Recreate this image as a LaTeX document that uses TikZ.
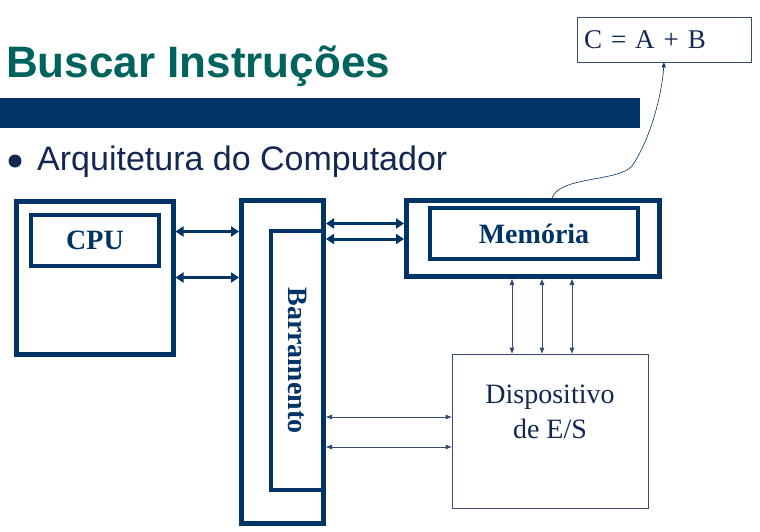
\documentclass[tikz,border=0pt]{standalone}
\usepackage{fontspec}
\setmainfont{Liberation Serif}
\setsansfont{Liberation Sans}
\usepackage{xcolor}
\usepackage{tikz}
\usetikzlibrary{arrows.meta, positioning, calc}

\definecolor{navy}{RGB}{0,51,102}
\definecolor{titleteal}{RGB}{0,99,94}
\definecolor{textnavy}{RGB}{18,40,82}
\definecolor{thinnavy}{RGB}{55,75,115}

\begin{document}
\begin{tikzpicture}[
    x=1pt, y=-1pt,
    outerbox/.style={draw=navy, line width=5pt, inner sep=0pt},
    innerbox/.style={draw=navy, line width=4pt, inner sep=0pt, text=navy, font=\fontsize{28}{30}\selectfont\bfseries},
    thinbox/.style={draw=thinnavy, line width=0.8pt, inner sep=0pt, text=textnavy, font=\fontsize{28}{35}\selectfont},
    fatlink/.style={navy, line width=3pt, {Triangle[length=8pt,width=10pt]}-{Triangle[length=8pt,width=10pt]}},
    thinlink/.style={thinnavy, line width=0.8pt, {Triangle[length=6pt,width=4.5pt]}-{Triangle[length=6pt,width=4.5pt]}}
]
\useasboundingbox (0,0) rectangle (760,531);

% heading
\node[anchor=base west, inner sep=0pt, text=titleteal, font=\fontsize{44}{46}\selectfont\sffamily\bfseries] (title) at (6,77) {Buscar Instruções};
\fill[navy] (0,98) rectangle (640,128);
\fill[textnavy] (15,161) circle (6.5);
\node[anchor=base west, inner sep=0pt, text=textnavy, font=\fontsize{34}{36}\selectfont\sffamily] (topic) at (37,170) {Arquitetura do Computador};

% blocks
\node[outerbox, minimum width=157pt, minimum height=153pt] (cpubox) at (94.5,277.5) {};
\node[innerbox, minimum width=128pt, minimum height=51pt] (cpu) at (95,240.5) {CPU};
\node[outerbox, minimum width=82pt, minimum height=323pt] (busbox) at (282.5,362) {};
\node[innerbox, minimum width=52.5pt, minimum height=259pt] (bus) at (297.25,360.5) {};
\node[rotate=-90, text=navy, font=\fontsize{28}{30}\selectfont\bfseries] (buslabel) at (bus.center) {Barramento};
\node[outerbox, minimum width=253pt, minimum height=76pt] (membox) at (533,238.5) {};
\node[innerbox, minimum width=208pt, minimum height=51pt] (mem) at (534,233.5) {Memória};
\node[thinbox, minimum width=196pt, minimum height=154pt, align=center] (es) at (550,431) {Dispositivo\\de E/S\\[4pt]};
\node[thinbox, minimum width=174pt, minimum height=45pt, text width=160pt, align=left, font=\fontsize{27}{29}\selectfont] (expr) at (664,39.5) {C = A + B};

% links
\draw[fatlink] ([yshift=46pt]cpubox.east) -- ([yshift=46pt]busbox.west |- cpubox.east);
\draw[fatlink] (cpubox.east) -- (busbox.west |- cpubox.east);
\draw[fatlink] ([yshift=15pt]busbox.east |- membox.west) -- ([yshift=15pt]membox.west);
\draw[fatlink] ([yshift=-0.5pt]busbox.east |- membox.west) -- ([yshift=-0.5pt]membox.west);
\foreach \dx in {-38,-8,22}
    \draw[thinlink] ([xshift=\dx pt]membox.south -| es.north) -- ([xshift=\dx pt]es.north);
\draw[thinlink] ([yshift=14pt]busbox.east |- es.west) -- ([yshift=14pt]es.west);
\draw[thinlink] ([yshift=-16pt]busbox.east |- es.west) -- ([yshift=-16pt]es.west);
\draw[navy, line width=0.6pt, -{Triangle[length=5pt,width=4pt]}] ([xshift=19pt]membox.north)
    .. controls (560,176) and (618,182) .. (632,166)
    .. controls (650,140) and (662,95) .. (expr.south);
\end{tikzpicture}
\end{document}
